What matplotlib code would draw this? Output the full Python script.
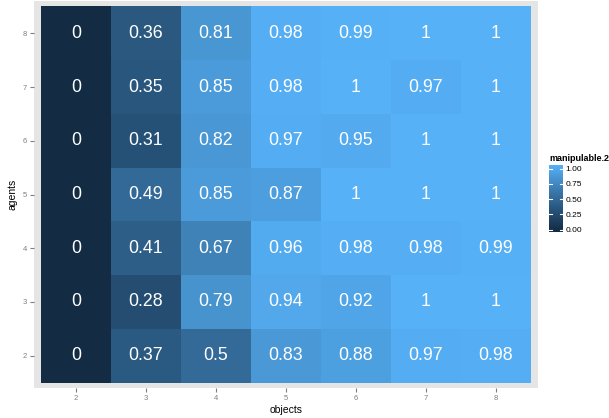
import numpy as np
import matplotlib.pyplot as plt
from matplotlib.colors import ListedColormap

plt.rcParams['font.family'] = ['Liberation Sans', 'DejaVu Sans']

objects = [2, 3, 4, 5, 6, 7, 8]
agents = [2, 3, 4, 5, 6, 7, 8]

# rows by agents (2 .. 8), columns by objects (2 .. 8)
agents_2 = [0, 0.37, 0.5, 0.83, 0.88, 0.97, 0.98]
agents_3 = [0, 0.28, 0.79, 0.94, 0.92, 1, 1]
agents_4 = [0, 0.41, 0.67, 0.96, 0.98, 0.98, 0.99]
agents_5 = [0, 0.49, 0.85, 0.87, 1, 1, 1]
agents_6 = [0, 0.31, 0.82, 0.97, 0.95, 1, 1]
agents_7 = [0, 0.35, 0.85, 0.98, 1, 0.97, 1]
agents_8 = [0, 0.36, 0.81, 0.98, 0.99, 1, 1]

values = np.array([agents_2, agents_3, agents_4, agents_5, agents_6, agents_7, agents_8])


# ggplot default gradient, interpolated in Lab space
def hex_to_lab(h):
    rgb = np.array([int(h[i:i + 2], 16) for i in (1, 3, 5)]) / 255.0
    lin = np.where(rgb <= 0.04045, rgb / 12.92, ((rgb + 0.055) / 1.055) ** 2.4)
    m = np.array([[0.4124, 0.3576, 0.1805],
                  [0.2126, 0.7152, 0.0722],
                  [0.0193, 0.1192, 0.9505]])
    xyz = m @ lin / np.array([0.95047, 1.0, 1.08883])
    f = np.where(xyz > 0.008856, np.cbrt(xyz), 7.787 * xyz + 16 / 116)
    return np.array([116 * f[1] - 16, 500 * (f[0] - f[1]), 200 * (f[1] - f[2])])


def lab_to_rgb(lab):
    fy = (lab[0] + 16) / 116
    fx = fy + lab[1] / 500
    fz = fy - lab[2] / 200
    f = np.array([fx, fy, fz])
    xyz = np.where(f ** 3 > 0.008856, f ** 3, (f - 16 / 116) / 7.787) * np.array([0.95047, 1.0, 1.08883])
    mi = np.array([[3.2406, -1.5372, -0.4986],
                   [-0.9689, 1.8758, 0.0415],
                   [0.0557, -0.2040, 1.0570]])
    lin = mi @ xyz
    rgb = np.where(lin <= 0.0031308, 12.92 * lin, 1.055 * np.clip(lin, 0, None) ** (1 / 2.4) - 0.055)
    return np.clip(rgb, 0, 1)


lo, hi = hex_to_lab("#132B43"), hex_to_lab("#56B1F7")
cmap = ListedColormap([lab_to_rgb(lo + t * (hi - lo)) for t in np.linspace(0, 1, 256)])

fig = plt.figure(figsize=(6.09, 4.18), dpi=100)
ax = fig.add_axes([34 / 609, 1 - 388 / 418, 504 / 609, 387 / 418])
ax.set_facecolor("#E5E5E5")

ax.pcolormesh(np.arange(len(objects) + 1) + 1.5, np.arange(len(agents) + 1) + 1.5,
              values, cmap=cmap, vmin=0, vmax=1)

for i, a in enumerate(agents):
    for j, o in enumerate(objects):
        ax.text(o, a, f"{values[i, j]:g}", color="white", fontsize=12.8,
                ha="center", va="center")

ax.set_xlim(1.4, 8.6)
ax.set_ylim(1.4, 8.6)
ax.set_xticks(objects)
ax.set_yticks(agents)
ax.tick_params(colors="#7F7F7F", labelsize=5.5, length=3, width=0.8, pad=2)
for s in ax.spines.values():
    s.set_visible(False)
ax.set_xlabel("objects", fontsize=7.5, labelpad=2)
ax.set_ylabel("agents", fontsize=7.5, labelpad=4)

# colour bar legend
cax = fig.add_axes([549 / 609, 1 - 232 / 418, 14 / 609, 67 / 418])
grad = np.linspace(0, 1, 256).reshape(-1, 1)
cax.imshow(grad, cmap=cmap, aspect="auto", origin="lower", extent=[0, 1, -0.04, 1.06])
for t in [0, 0.25, 0.5, 0.75, 1.0]:
    cax.plot([0, 0.2], [t, t], color="white", lw=0.8)
    cax.plot([0.8, 1], [t, t], color="white", lw=0.8)
cax.set_xlim(0, 1)
cax.set_ylim(-0.04, 1.06)
cax.set_xticks([])
cax.yaxis.tick_right()
cax.set_yticks([0, 0.25, 0.5, 0.75, 1.0])
cax.set_yticklabels(["0.00", "0.25", "0.50", "0.75", "1.00"])
cax.tick_params(axis="y", length=0, labelsize=6, pad=2)
for s in cax.spines.values():
    s.set_visible(False)
fig.text(549 / 609, 1 - 159 / 418, "manipulable.2", fontsize=6.5, fontweight="bold",
         ha="left", va="center")

fig.savefig("out.png", dpi=100)
